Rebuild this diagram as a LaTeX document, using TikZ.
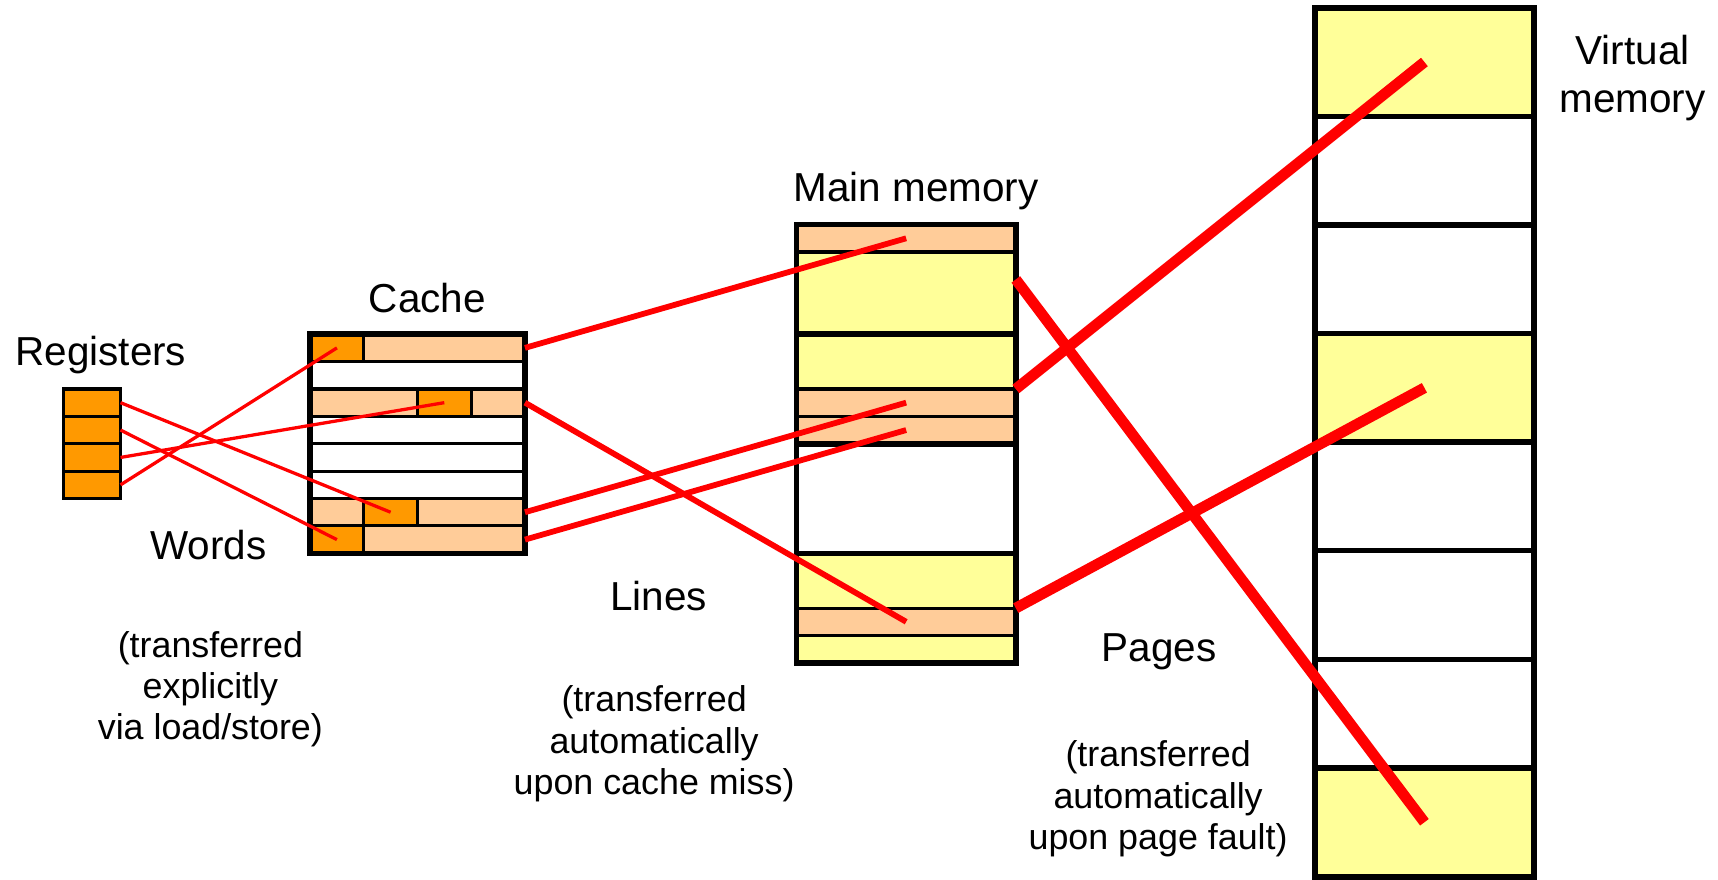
\documentclass[tikz,border=0pt]{standalone}
\usepackage{fontspec}
\setmainfont{Liberation Sans}
\definecolor{regorange}{HTML}{FF9900}
\definecolor{linepeach}{HTML}{FFCC99}
\definecolor{pageyellow}{HTML}{FFFF99}

\begin{document}
\begin{tikzpicture}[x=0.01cm, y=-0.01cm,
    cell/.style={draw, line width=0.8pt, anchor=north west, inner sep=0pt, outer sep=0pt},
    frame/.style={draw, line width=1.4pt, anchor=north west, inner sep=0pt, outer sep=0pt},
    lbl/.style={font=\fontsize{10.5}{12.5}\selectfont, align=center, inner sep=0pt},
    note/.style={font=\fontsize{9.3}{10.7}\selectfont, align=center, inner sep=0pt},
    wordwire/.style={red, line width=0.85pt},
    linewire/.style={red, line width=1.5pt},
    pagewire/.style={red, line width=2.8pt}]
    \useasboundingbox (0,0) rectangle (1568,803);

    % registers
    \foreach \i in {1,...,4}
        \node[cell, fill=regorange, minimum width=0.52cm, minimum height=0.25cm] (r\i) at (58,{330+25*\i}) {};

    % cache: 8 lines of 4 words
    \foreach \i/\col in {1/linepeach,2/white,3/linepeach,4/white,5/white,6/white,7/linepeach,8/linepeach}
        \node[cell, fill=\col, minimum width=1.96cm, minimum height=0.25cm] (c\i) at (283,{280+25*\i}) {};
    \node[cell, fill=regorange, minimum width=0.49cm, minimum height=0.25cm] (w1) at (283,305) {};
    \node[cell, fill=regorange, minimum width=0.49cm, minimum height=0.25cm] (w3) at (381,355) {};
    \node[cell, fill=regorange, minimum width=0.49cm, minimum height=0.25cm] (w7) at (332,455) {};
    \node[cell, fill=regorange, minimum width=0.49cm, minimum height=0.25cm] (w8) at (283,480) {};
    \node[frame, minimum width=1.96cm, minimum height=2cm] (cache) at (283,305) {};

    % main memory: 4 pages
    \foreach \yt/\h/\col/\n in {205/25/linepeach/1, 230/75/pageyellow/2, 305/50/pageyellow/3,
            355/25/linepeach/4, 380/25/linepeach/5, 405/100/white/6,
            505/50/pageyellow/7, 555/25/linepeach/8, 580/25/pageyellow/9}
        \node[cell, fill=\col, minimum width=2cm, minimum height=\h*0.01cm] (m\n) at (727,\yt) {};
    \foreach \i in {1,...,4}
        \node[frame, minimum width=2cm, minimum height=1cm] (mp\i) at (727,{105+100*\i}) {};

    % virtual memory: 8 pages
    \foreach \i/\col in {1/pageyellow,2/white,3/white,4/pageyellow,5/white,6/white,7/white,8/pageyellow}
        \node[cell, line width=1.4pt, fill=\col, minimum width=2cm, minimum height=0.99125cm] (v\i) at (1200,{7+99.125*(\i-1)}) {};
    \node[frame, line width=1.6pt, minimum width=2cm, minimum height=7.93cm] (vm) at (1200,7) {};

    % labels
    \node[lbl] (reglbl) at (92,324) {Registers};
    \node[lbl] (wordlbl) at (190,497) {Words};
    \node[note] (wordnote) at (192,629) {(transferred\\explicitly\\via load/store)};
    \node[lbl] (cachelbl) at (390,272) {Cache};
    \node[lbl] (linelbl) at (601,544) {Lines};
    \node[note] (linenote) at (597,679) {(transferred\\automatically\\upon cache miss)};
    \node[lbl] (mainlbl) at (836,174) {Main memory};
    \node[lbl] (pagelbl) at (1058,595) {Pages};
    \node[note] (pagenote) at (1057,729) {(transferred\\automatically\\upon page fault)};
    \node[lbl] (vmlbl) at (1490,71) {Virtual\\memory};

    % transfers
    \draw[wordwire] (r1.east) -- (w7.center);
    \draw[wordwire] (r2.east) -- (w8.center);
    \draw[wordwire] (r3.east) -- (w3.center);
    \draw[wordwire] (r4.east) -- (w1.center);
    \draw[linewire] (c1.east) -- (m1.center);
    \draw[linewire] (c3.east) -- (m8.center);
    \draw[linewire] (c7.east) -- (m4.center);
    \draw[linewire] (c8.east) -- (m5.center);
    \draw[pagewire] (mp1.east) -- (v8.center);
    \draw[pagewire] (mp2.east) -- (v1.center);
    \draw[pagewire] (mp4.east) -- (v4.center);

\end{tikzpicture}
\end{document}
